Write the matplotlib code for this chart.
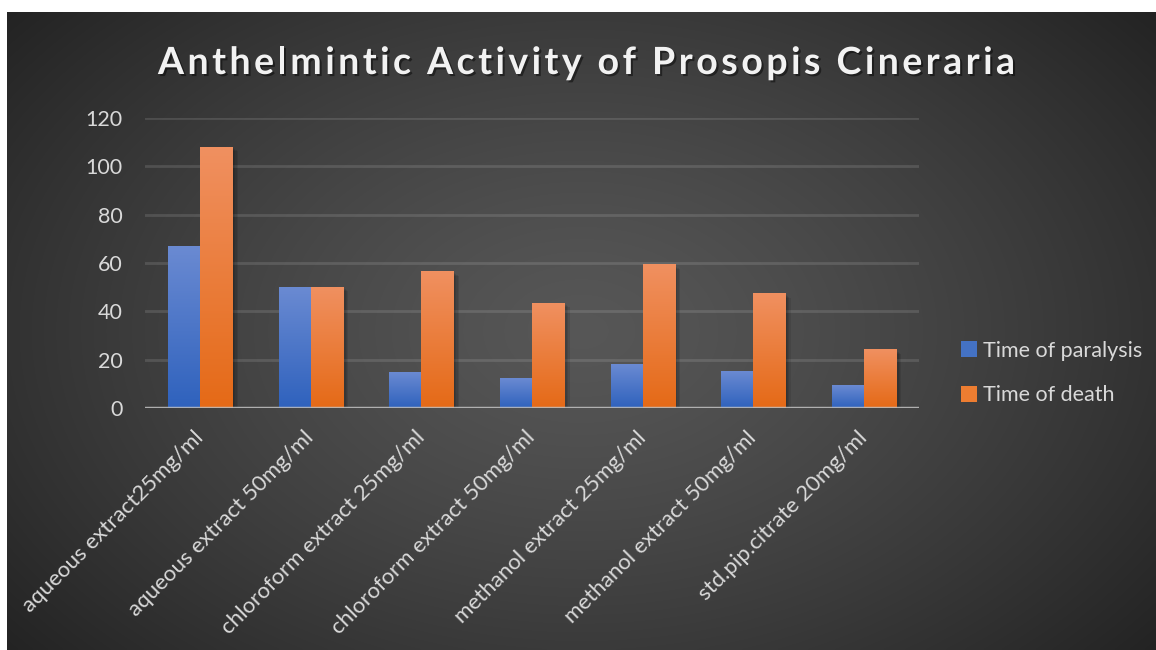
import numpy as np
import matplotlib
matplotlib.use('Agg')
import matplotlib.pyplot as plt
import matplotlib.patheffects as pe
from matplotlib.patches import Patch

# Data
categories = ['aqueous extract25mg/ml', 'aqueous extract 50mg/ml',
              'chloroform extract 25mg/ml', 'chloroform extract 50mg/ml',
              'methanol extract 25mg/ml', 'methanol extract 50mg/ml',
              'std.pip.citrate 20mg/ml']
paralysis = [67, 50, 14.5, 12, 18.2, 15.3, 9.5]
death = [108, 50, 56.3, 43.4, 59.2, 47.2, 24]
series_names = ['Time of paralysis', 'Time of death']
title = 'Anthelmintic Activity of Prosopis Cineraria'

W, H = 1156, 650
fig = plt.figure(figsize=(W / 100, H / 100), dpi=100)
fig.patch.set_facecolor('white')

# dark radial-gradient panel
bg = fig.add_axes([7 / W, 0, 1 - 7 / W, (H - 12) / H], zorder=0)
gx, gy = np.meshgrid(np.linspace(0, 1, 400), np.linspace(0, 1, 250))
r = np.sqrt(((gx - 0.50) / 0.62) ** 2 + ((gy - 0.50) / 0.75) ** 2)
shade = np.clip(0.34 - 0.19 * r ** 1.3, 0.14, 0.34)
bg.imshow(np.dstack([shade] * 3), extent=[0, 1, 0, 1], aspect='auto',
          interpolation='bilinear', origin='lower')
bg.set_axis_off()

ax = fig.add_axes([145 / W, 242 / H, 774 / W, 290 / H], zorder=1)
ax.patch.set_alpha(0)

x = np.arange(len(categories))
bw = 0.29
# soft shadow: a few stacked translucent offsets
shadow = [pe.SimplePatchShadow(offset=(o, -o * 0.7), shadow_rgbFace='black', alpha=0.09)
          for o in (1, 2, 3, 4)] + [pe.Normal()]
b1 = ax.bar(x - bw / 2, paralysis, bw, color='#4472c4', path_effects=shadow, zorder=2)
b2 = ax.bar(x + bw / 2, death, bw, color='#ed7d31', path_effects=shadow, zorder=2)

def grad(top, bottom):
    t = np.linspace(0, 1, 64)[:, None]
    top = np.array(matplotlib.colors.to_rgb(top))
    bottom = np.array(matplotlib.colors.to_rgb(bottom))
    return (bottom + (top - bottom) * t)[:, None, :].repeat(2, axis=1)

blue_g = grad('#6a8ad2', '#2f62bd')
orange_g = grad('#f09060', '#e56a17')
for bars, g in ((b1, blue_g), (b2, orange_g)):
    for p in bars:
        x0, y0 = p.get_xy()
        ax.imshow(g, extent=[x0, x0 + p.get_width(), y0, y0 + p.get_height()],
                  origin='lower', aspect='auto', interpolation='bilinear', zorder=3)

ax.set_xlim(-0.5, len(categories) - 0.5)
ax.set_ylim(0, 120)
ax.set_yticks(range(0, 121, 20))
ax.yaxis.grid(True, color='white', alpha=0.12, linewidth=2)
ax.set_axisbelow(True)
ax.axhline(0, color='#bfbfbf', linewidth=2.5, alpha=0.85, zorder=5)
for s in ax.spines.values():
    s.set_visible(False)
ax.tick_params(length=0, colors='#d9d9d9', labelsize=15.5)
ax.tick_params(axis='y', pad=16)
for lab in ax.get_yticklabels():
    lab.set_fontfamily('Lato')
ax.set_xticks(x)
ax.set_xticklabels(categories, rotation=45, rotation_mode='anchor', ha='right',
                   va='center', fontfamily='Lato', fontsize=16, color='#d9d9d9')
ax.tick_params(axis='x', pad=19)

handles = [Patch(facecolor='#4472c4'), Patch(facecolor='#ed7d31')]
leg = ax.legend(handles, series_names, loc='center left',
                bbox_to_anchor=(950 / W, (H - 373) / H), bbox_transform=fig.transFigure,
                frameon=False, borderpad=0, labelspacing=1.15, handletextpad=0.3,
                handlelength=0.75, handleheight=0.75,
                prop={'family': 'Lato', 'size': 15.5})
for t in leg.get_texts():
    t.set_color('#d9d9d9')

# letter-spaced title
fig.canvas.draw()
renderer = fig.canvas.get_renderer()
tkw = dict(fontfamily='Lato', fontweight='bold', fontsize=27, color='#f2f2f2',
           path_effects=[pe.withSimplePatchShadow(offset=(1.5, -1.5), shadow_rgbFace='black', alpha=0.45)])
widths = []
for c in title:
    if c == ' ':
        widths.append(None)
        continue
    t = fig.text(0, 0, c, **tkw)
    widths.append(t.get_window_extent(renderer).width)
    t.remove()
space = 0.24 * 27 * 100 / 72
widths = [space if w is None else w for w in widths]
target = 857
track = (target - sum(widths)) / (len(title) - 1)
xpos = (586.5 - target / 2)
base = (H - 74) / H
for c, w in zip(title, widths):
    if c != ' ':
        fig.text(xpos / W, base, c, ha='left', va='baseline', **tkw)
    xpos += w + track

fig.savefig('out.png', dpi=100)
